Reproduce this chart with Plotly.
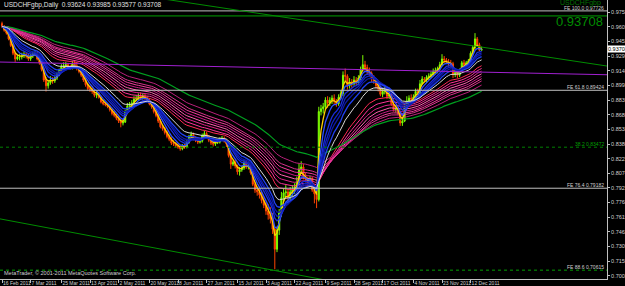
import pandas as pd
import plotly.graph_objects as go

# ---------------- data ----------------
dates = pd.bdate_range("2011-02-16", "2011-12-19")

first_open = 0.9640
closes = [
    0.9610, 0.9570, 0.9540,
    0.9480, 0.9410, 0.9330, 0.9270, 0.9290,
    0.9290, 0.9300, 0.9320, 0.9300, 0.9270,
    0.9300, 0.9320, 0.9330, 0.9270, 0.9230,
    0.9160, 0.9050, 0.8990, 0.9020, 0.9050,
    0.9040, 0.9070, 0.9110, 0.9150, 0.9190,
    0.9200, 0.9210, 0.9190, 0.9180, 0.9220,
    0.9200, 0.9170, 0.9140, 0.9100, 0.9050,
    0.9000, 0.8960, 0.8950, 0.8930, 0.8890,
    0.8910, 0.8870, 0.8820, 0.8800, 0.8790,
    0.8770, 0.8740, 0.8700, 0.8680, 0.8650,
    0.8620, 0.8600, 0.8610, 0.8720, 0.8780,
    0.8790, 0.8810, 0.8850, 0.8860, 0.8880,
    0.8870, 0.8880, 0.8860, 0.8840, 0.8800,
    0.8770, 0.8720, 0.8680, 0.8620, 0.8560,
    0.8540, 0.8500, 0.8460, 0.8430, 0.8390,
    0.8380, 0.8360, 0.8350, 0.8330, 0.8360,
    0.8350, 0.8400, 0.8460, 0.8480, 0.8440,
    0.8420, 0.8400, 0.8410, 0.8470, 0.8490,
    0.8460, 0.8420, 0.8390, 0.8380, 0.8400,
    0.8400, 0.8430, 0.8440, 0.8410, 0.8380,
    0.8260, 0.8170, 0.8190, 0.8150, 0.8090,
    0.8110, 0.8130, 0.8190, 0.8140, 0.8150,
    0.8080, 0.7960, 0.7900, 0.7880, 0.7850,
    0.7790, 0.7740, 0.7680, 0.7640, 0.7600,
    0.7490, 0.7280, 0.7480, 0.7660, 0.7820,
    0.7870, 0.7880, 0.7830, 0.7880, 0.7900,
    0.7930, 0.7980, 0.8120, 0.8140, 0.8040,
    0.8010, 0.7960, 0.8020, 0.7900, 0.7860,
    0.7800, 0.8720, 0.8750, 0.8770, 0.8840,
    0.8810, 0.8840, 0.8860, 0.8830, 0.8800,
    0.8870, 0.8910, 0.9100, 0.9090, 0.8990,
    0.9030, 0.9010, 0.9050, 0.9020, 0.9070,
    0.9160, 0.9210, 0.9180, 0.9140, 0.9120,
    0.9060, 0.9040, 0.8990, 0.8960, 0.8900,
    0.8930, 0.8950, 0.8880, 0.8900, 0.8800,
    0.8740, 0.8750, 0.8700, 0.8600, 0.8620,
    0.8770, 0.8830, 0.8860, 0.8850, 0.8870,
    0.8930, 0.8920, 0.9010, 0.9060, 0.9050,
    0.9080, 0.9090, 0.9110, 0.9140, 0.9150,
    0.9170, 0.9210, 0.9270, 0.9260, 0.9240,
    0.9220, 0.9220, 0.9110, 0.9130, 0.9100,
    0.9150, 0.9230, 0.9210, 0.9230, 0.9250,
    0.9330, 0.9390, 0.9480, 0.9420, 0.93624,
    0.93708,
]
highs = [
    0.9660, 0.9625, 0.9590,
    0.9550, 0.9495, 0.9425, 0.9345, 0.9310,
    0.9320, 0.9335, 0.9350, 0.9340, 0.9325,
    0.9320, 0.9345, 0.9360, 0.9345, 0.9290,
    0.9245, 0.9180, 0.9080, 0.9050, 0.9090,
    0.9080, 0.9090, 0.9130, 0.9170, 0.9215,
    0.9235, 0.9240, 0.9230, 0.9210, 0.9250,
    0.9250, 0.9230, 0.9190, 0.9160, 0.9120,
    0.9070, 0.9020, 0.8990, 0.8980, 0.8950,
    0.8940, 0.8925, 0.8885, 0.8840, 0.8820,
    0.8810, 0.8790, 0.8755, 0.8725, 0.8700,
    0.8670, 0.8640, 0.8640, 0.8740, 0.8810,
    0.8820, 0.8840, 0.8880, 0.8890, 0.8910,
    0.8920, 0.8910, 0.8905, 0.8880, 0.8860,
    0.8820, 0.8790, 0.8740, 0.8700, 0.8640,
    0.8580, 0.8560, 0.8520, 0.8480, 0.8450,
    0.8420, 0.8400, 0.8385, 0.8370, 0.8380,
    0.8385, 0.8420, 0.8475, 0.8510, 0.8500,
    0.8460, 0.8440, 0.8430, 0.8490, 0.8520,
    0.8510, 0.8475, 0.8440, 0.8410, 0.8420,
    0.8425, 0.8450, 0.8465, 0.8460, 0.8430,
    0.8390, 0.8275, 0.8210, 0.8220, 0.8165,
    0.8140, 0.8155, 0.8220, 0.8210, 0.8175,
    0.8165, 0.8095, 0.7980, 0.7935, 0.7910,
    0.7890, 0.7830, 0.7780, 0.7750, 0.7720,
    0.7660, 0.7520, 0.7520, 0.7700, 0.7880,
    0.7920, 0.7950, 0.7910, 0.7930, 0.7950,
    0.7970, 0.8040, 0.8180, 0.8200, 0.8170,
    0.8080, 0.8040, 0.8050, 0.8040, 0.7930,
    0.7890, 0.8770, 0.8790, 0.8810, 0.8870,
    0.8880, 0.8870, 0.8890, 0.8900, 0.8850,
    0.8900, 0.8940, 0.9140, 0.9170, 0.9110,
    0.9070, 0.9060, 0.9090, 0.9080, 0.9100,
    0.9190, 0.9310, 0.9250, 0.9210, 0.9180,
    0.9140, 0.9100, 0.9070, 0.9020, 0.8990,
    0.8960, 0.8990, 0.8970, 0.8930, 0.8920,
    0.8820, 0.8780, 0.8770, 0.8720, 0.8660,
    0.8800, 0.8880, 0.8890, 0.8900, 0.8900,
    0.8960, 0.8960, 0.9050, 0.9090, 0.9080,
    0.9100, 0.9120, 0.9140, 0.9170, 0.9180,
    0.9190, 0.9240, 0.9320, 0.9300, 0.9280,
    0.9270, 0.9260, 0.9240, 0.9150, 0.9150,
    0.9170, 0.9250, 0.9260, 0.9250, 0.9270,
    0.9350, 0.9410, 0.9540, 0.9500, 0.9440,
    0.93985,
]
lows = [
    0.9595, 0.9555, 0.9525,
    0.9465, 0.9395, 0.9310, 0.9240, 0.9255,
    0.9255, 0.9265, 0.9280, 0.9275, 0.9250,
    0.9250, 0.9280, 0.9300, 0.9255, 0.9210,
    0.9140, 0.9030, 0.8930, 0.8960, 0.9000,
    0.9010, 0.9020, 0.9050, 0.9090, 0.9130,
    0.9170, 0.9180, 0.9170, 0.9155, 0.9160,
    0.9185, 0.9150, 0.9120, 0.9080, 0.9030,
    0.8980, 0.8940, 0.8925, 0.8905, 0.8870,
    0.8860, 0.8855, 0.8805, 0.8785, 0.8775,
    0.8755, 0.8720, 0.8680, 0.8660, 0.8630,
    0.8600, 0.8555, 0.8575, 0.8600, 0.8700,
    0.8750, 0.8770, 0.8790, 0.8830, 0.8840,
    0.8850, 0.8845, 0.8840, 0.8820, 0.8785,
    0.8750, 0.8700, 0.8660, 0.8600, 0.8545,
    0.8520, 0.8480, 0.8440, 0.8410, 0.8370,
    0.8360, 0.8340, 0.8330, 0.8310, 0.8315,
    0.8330, 0.8335, 0.8385, 0.8440, 0.8420,
    0.8400, 0.8380, 0.8385, 0.8395, 0.8450,
    0.8440, 0.8400, 0.8370, 0.8355, 0.8360,
    0.8380, 0.8385, 0.8410, 0.8395, 0.8350,
    0.8240, 0.8120, 0.8150, 0.8125, 0.8060,
    0.8050, 0.8090, 0.8110, 0.8120, 0.8115,
    0.8060, 0.7940, 0.7870, 0.7840, 0.7810,
    0.7760, 0.7710, 0.7640, 0.7590, 0.7550,
    0.7440, 0.7070, 0.7250, 0.7430, 0.7620,
    0.7780, 0.7820, 0.7780, 0.7790, 0.7830,
    0.7860, 0.7900, 0.7960, 0.8070, 0.8010,
    0.7980, 0.7920, 0.7940, 0.7880, 0.7760,
    0.7710, 0.7780, 0.8680, 0.8700, 0.8740,
    0.8760, 0.8780, 0.8800, 0.8800, 0.8770,
    0.8780, 0.8850, 0.8880, 0.9040, 0.8950,
    0.8960, 0.8970, 0.8990, 0.8990, 0.9000,
    0.9050, 0.9140, 0.9150, 0.9110, 0.9090,
    0.9030, 0.9010, 0.8960, 0.8930, 0.8880,
    0.8870, 0.8900, 0.8850, 0.8850, 0.8780,
    0.8720, 0.8710, 0.8680, 0.8570, 0.8570,
    0.8610, 0.8750, 0.8800, 0.8820, 0.8820,
    0.8850, 0.8890, 0.8900, 0.9000, 0.9030,
    0.9020, 0.9050, 0.9070, 0.9090, 0.9120,
    0.9120, 0.9160, 0.9200, 0.9230, 0.9220,
    0.9190, 0.9180, 0.9070, 0.9080, 0.9070,
    0.9080, 0.9130, 0.9190, 0.9190, 0.9210,
    0.9240, 0.9310, 0.9370, 0.9400, 0.9350,
    0.93577,
]

short_periods = [3, 5, 8, 10, 12, 15]
white_period = 20
long_periods = [30, 35, 40, 45, 50, 55, 60, 70]
green_period = 90

date_tick_labels = ["16 Feb 2011", "7 Mar 2011", "25 Mar 2011", "13 Apr 2011", "2 May 2011",
                    "20 May 2011", "8 Jun 2011", "27 Jun 2011", "15 Jul 2011", "3 Aug 2011",
                    "22 Aug 2011", "9 Sep 2011", "28 Sep 2011", "17 Oct 2011", "4 Nov 2011",
                    "23 Nov 2011", "12 Dec 2011"]
price_ticks = [0.97580, 0.96050, 0.94520, 0.92990, 0.91460, 0.89930, 0.88395, 0.86865,
               0.85335, 0.83805, 0.82275, 0.80745, 0.79215, 0.77685, 0.76150, 0.74620,
               0.73090, 0.71560, 0.70030]

# horizontal fibo levels and their labels
fibo_levels = [0.97726, 0.97200, 0.89424, 0.83472, 0.79182, 0.70615]
fibo_labels = ["FE 100.0 0.97726", "", "FE 61.8 0.89424", "38.2 0.83472",
               "FE 76.4 0.79182", "FE 88.6 0.70615"]
# trend lines: (bar index, price) pairs
purple_line = [(-1, 0.9238), (275, 0.9105)]
green_top_line = [(72, 0.9902), (275, 0.9196)]
green_bottom_line = [(-1, 0.7598), (275, 0.6405)]

# ---------------- derived ----------------
opens = [first_open] + closes[:-1]
idx = list(range(len(dates)))
s = pd.Series(closes)

def ema(n):
    return s.ewm(span=n, adjust=False).mean()

fig = go.Figure()

long_cols = ["#ff2a55", "#ff3399", "#e0218a", "#ff5fb0", "#c71585", "#f03c9a", "#d6308c", "#b8207a"]
for p, c in zip(long_periods, long_cols):
    fig.add_trace(go.Scatter(x=idx, y=ema(p), mode="lines", line=dict(color=c, width=1)))
fig.add_trace(go.Scatter(x=idx, y=ema(green_period), mode="lines", line=dict(color="#00a020", width=1.2)))

short_cols = ["#ffd000", "#3050ff", "#1a2cdc", "#1020c0", "#0c18a8", "#2040f0"]
for p, c in zip(short_periods, short_cols):
    fig.add_trace(go.Scatter(x=idx, y=ema(p), mode="lines", line=dict(color=c, width=1.3)))
fig.add_trace(go.Scatter(x=idx, y=ema(white_period), mode="lines", line=dict(color="#d8d8d8", width=1)))

fig.add_trace(go.Candlestick(
    x=idx, open=opens, high=highs, low=lows, close=closes,
    increasing=dict(line=dict(color="#7cfc00", width=1), fillcolor="#7cfc00"),
    decreasing=dict(line=dict(color="#ff4500", width=1), fillcolor="#ff4500"),
    whiskerwidth=0,
))

xr = [-0.91, 275]
fibo_cols = ["#c0c0c0", "#00a000", "#c0c0c0", "#008000", "#c0c0c0", "#00a000"]
fibo_dash = ["solid", "solid", "solid", "dot", "solid", "dot"]
for lv, c, d in zip(fibo_levels, fibo_cols, fibo_dash):
    fig.add_trace(go.Scatter(x=xr, y=[lv, lv], mode="lines", line=dict(color=c, width=1, dash=d)))

for ln, c in [(purple_line, "#a020d0"), (green_top_line, "#008c00"), (green_bottom_line, "#008c00")]:
    fig.add_trace(go.Scatter(x=[p[0] for p in ln], y=[p[1] for p in ln], mode="lines",
                             line=dict(color=c, width=1)))

tick_idx = [dates.get_loc(pd.Timestamp(t)) for t in date_tick_labels]

FONT = "Liberation Sans Narrow, Liberation Sans, DejaVu Sans"
fig.update_layout(
    width=625, height=286,
    margin=dict(l=0, r=18, t=0, b=7),
    paper_bgcolor="#000000", plot_bgcolor="#000000",
    showlegend=False, hovermode=False,
    font=dict(family=FONT, size=6, color="#c8c8c8"),
    xaxis=dict(range=xr, tickmode="array", tickvals=tick_idx, ticktext=date_tick_labels,
               tickangle=0, automargin=False, ticklabeloverflow="allow",
               ticklabelposition="outside right",
               ticks="outside", ticklen=3, tickcolor="#c0c0c0", showline=True,
               linecolor="#c0c0c0", linewidth=1, showgrid=False, zeroline=False,
               rangeslider=dict(visible=False), ticklabelstandoff=-1,
               tickfont=dict(size=5, family=FONT, color="#d0d0d0"), fixedrange=True),
    yaxis=dict(range=[0.69689, 0.98866], side="right", tickmode="array",
               tickvals=price_ticks, ticktext=[f"{v:.5f}" for v in price_ticks],
               ticks="outside", ticklen=2, tickcolor="#c0c0c0", showline=True,
               linecolor="#c0c0c0", linewidth=1, showgrid=False, zeroline=False,
               tickfont=dict(size=5.5, family=FONT, color="#d0d0d0"), automargin=False,
               ticklabelstandoff=0, fixedrange=True),
)

ann = []
for lv, lab in zip(fibo_levels, fibo_labels):
    if lab:
        col = "#00a000" if lab.startswith("38") else "#d0d0d0"
        ann.append(dict(x=274.5, y=lv, text=lab, xref="x", yref="y", showarrow=False,
                        xanchor="right", yanchor="bottom", yshift=-2,
                        font=dict(size=5, color=col, family=FONT)))

ann.append(dict(x=0.004, y=1 - 5 / 279, xref="paper", yref="paper", showarrow=False, xanchor="left",
                yanchor="middle", text="USDCHFgbp,Daily  0.93624 0.93985 0.93577 0.93708",
                font=dict(size=6.5, color="#e0e0e0", family=FONT)))
ann.append(dict(x=0.004, y=1 - 273 / 279, xref="paper", yref="paper", showarrow=False, xanchor="left",
                yanchor="middle", text="MetaTrader, © 2001-2011 MetaQuotes Software Corp.",
                font=dict(size=5.5, color="#d0d0d0", family=FONT)))
ann.append(dict(x=603 / 607, y=1 - 2.5 / 279, xref="paper", yref="paper", showarrow=False, xanchor="right",
                yanchor="middle", text="USDCHFgbp", font=dict(size=7, color="#007000", family=FONT)))
ann.append(dict(x=605 / 607, y=1 - 21.5 / 279, xref="paper", yref="paper", showarrow=False, xanchor="right",
                yanchor="middle", text=f"{closes[-1]:.5f}", font=dict(size=13, color="#008c00", family=FONT)))
ann.append(dict(x=1.0, y=closes[-1], xref="paper", yref="y", showarrow=False, xanchor="left",
                yanchor="middle", text=f"{closes[-1]:.5f}", bgcolor="#ffffff", borderpad=0,
                font=dict(size=5.5, color="#000000", family=FONT)))
fig.update_layout(annotations=ann)

fig.write_html("out.html")
